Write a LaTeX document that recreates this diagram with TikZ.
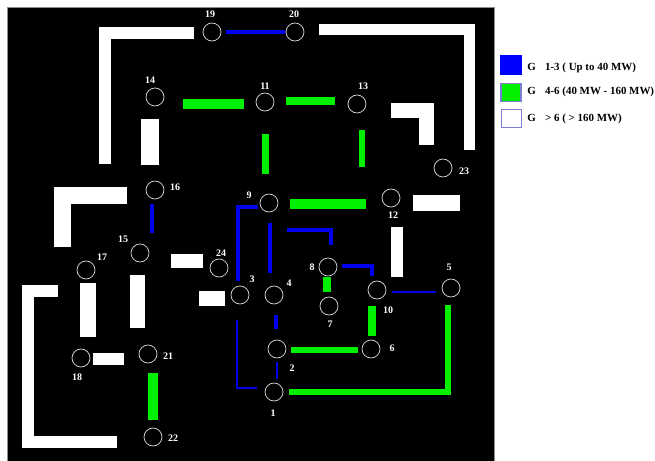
\documentclass[tikz,border=0pt]{standalone}
\usepackage{fontspec}
\setmainfont{Liberation Serif}
\begin{document}
\begin{tikzpicture}[x=0.75pt,y=-0.75pt,
  bus/.style={draw=white!85!black,line width=0.55pt,circle,inner sep=0pt,minimum size=13.5pt},
  numlabel/.style={text=white,font=\bfseries\fontsize{7.5}{8}\selectfont,inner sep=0pt},
  whitewire/.style={draw=white,line width=#1*0.75pt},
  greenwire/.style={draw=linegreen,line width=#1*0.75pt},
  bluewire/.style={draw=lineblue,line width=#1*0.75pt},
  legendbox/.style={minimum width=15pt,minimum height=14pt,inner sep=0pt,line width=0.9pt},
  legendtext/.style={text=black,font=\bfseries\fontsize{8.2}{9}\selectfont,inner sep=0pt,anchor=west}]
\definecolor{linegreen}{RGB}{0,240,0}
\definecolor{lineblue}{RGB}{0,0,235}
\definecolor{legendedge}{RGB}{125,125,215}
\useasboundingbox (0,0) rectangle (655,460);
\fill[white] (0,0) rectangle (655,460);
\filldraw[fill=black,draw=black!45,line width=0.5pt] (7,7) rectangle (494,462);
% buses
\foreach \n/\cx/\cy/\lx/\ly in {1/274/392/273/413,2/277/349/292/368,3/240/295/252/279,4/274/295/289/283,5/451/288/449/267,6/371/349/392/348,7/329/306/330/324,8/328/267/312/267,9/269/203/249/195,10/377/290/388/310,11/265/102/265/86,12/391/198/393/215,13/357/104/363/86,14/155/97/150/80,15/140/253/123/239,16/155/190/175/187,17/86/270/102/257,18/81/358/77/377,19/212/32/210/14,20/295/32/294/14,21/148/354/168/356,22/153/437/173/438,23/443/168/464/171,24/219/268/221/253}{
  \node[bus] (n\n) at (\cx,\cy) {};
  \node[numlabel] (t\n) at (\lx,\ly) {\n};
}
% white connectors
\draw[whitewire=12] ([shift={(-18,1)}]n19.center) -| ([shift={(-50,-26)}]n16.center);
\draw[whitewire=11.5] ([shift={(24,-2.5)}]n20.center) -| ([shift={(26.5,-18)}]n23.center);
\draw[whitewire=18] ([shift={(-5,22)}]n14.center) -- ([shift={(-5,-25)}]n16.center);
\draw[whitewire=15] ([shift={(34,6)}]n13.center) -| ([shift={(-16.5,-23)}]n23.center);
\draw[whitewire=16] ([shift={(22,5)}]n12.center) -- ([shift={(69,5)}]n12.center);
\draw[whitewire=17] ([shift={(-28,5.5)}]n16.center) -| ([shift={(-23.5,-23)}]n17.center);
\draw[whitewire=12] ([shift={(6,29)}]n12.center) -- ([shift={(20,-13)}]n10.center);
\draw[whitewire=14] ([shift={(-16,-7)}]n24.center) -- ([shift={(31,8)}]n15.center);
\draw[whitewire=15] ([shift={(-15,3.5)}]n3.center) -- ([shift={(-20,30.5)}]n24.center);
\draw[whitewire=16] ([shift={(1.5,13)}]n17.center) -- ([shift={(6.5,-21)}]n18.center);
\draw[whitewire=15] ([shift={(-2.5,22)}]n15.center) -- ([shift={(-10.5,-26)}]n21.center);
\draw[whitewire=12] ([shift={(12,1)}]n18.center) -- ([shift={(-24,5)}]n21.center);
\draw[whitewire=12] ([shift={(-28,21)}]n17.center) -- ++(-30,0) |- ([shift={(-36,4.5)}]n22.center);
% green connectors
\draw[greenwire=10] ([shift={(28,7)}]n14.center) -- ([shift={(-21,2)}]n11.center);
\draw[greenwire=8] ([shift={(21,-1)}]n11.center) -- ([shift={(-22,-3)}]n13.center);
\draw[greenwire=7.5] ([shift={(0.5,32)}]n11.center) -- ([shift={(-3.5,-29)}]n9.center);
\draw[greenwire=6] ([shift={(5,26)}]n13.center) -- ([shift={(-29,-31)}]n12.center);
\draw[greenwire=10] ([shift={(21,1)}]n9.center) -- ([shift={(-25,6)}]n12.center);
\draw[greenwire=8] ([shift={(-1,10)}]n8.center) -- ([shift={(-2,-14)}]n7.center);
\draw[greenwire=8] ([shift={(-5,16)}]n10.center) -- ([shift={(1,-13)}]n6.center);
\draw[greenwire=6.5] ([shift={(14,1)}]n2.center) -- ([shift={(-13,1)}]n6.center);
\draw[greenwire=6] ([shift={(15,0)}]n1.center) -| ([shift={(-3,17)}]n5.center);
\draw[greenwire=10] ([shift={(5,19)}]n21.center) -- ([shift={(0,-17)}]n22.center);
% blue connectors
\draw[bluewire=4] ([shift={(14,0)}]n19.center) -- ([shift={(-10,0)}]n20.center);
\draw[bluewire=4] ([shift={(-3,14)}]n16.center) -- ([shift={(12,-20)}]n15.center);
\draw[bluewire=4] ([shift={(-11,4)}]n9.center) -| ([shift={(-2,-14)}]n3.center);
\draw[bluewire=4] ([shift={(1,20)}]n9.center) -- ([shift={(-4,-22)}]n4.center);
\draw[bluewire=4] ([shift={(18,27)}]n9.center) -| ([shift={(3,-22)}]n8.center);
\draw[bluewire=4] ([shift={(14,-1)}]n8.center) -| ([shift={(-5,-14)}]n10.center);
\draw[bluewire=2] ([shift={(15,2)}]n10.center) -- ([shift={(-15,4)}]n5.center);
\draw[bluewire=4] ([shift={(2,20)}]n4.center) -- ([shift={(-1,-20)}]n2.center);
\draw[bluewire=2.5] ([shift={(0,13)}]n2.center) -- ([shift={(3,-13)}]n1.center);
\draw[bluewire=2] ([shift={(-3,25)}]n3.center) |- ([shift={(-17,-4)}]n1.center);
% legend
\node[legendbox,fill=blue,draw=blue] (lb) at (511,65) {};
\node[legendbox,fill=linegreen,draw=legendedge] (lg) at (511,92.5) {};
\node[legendbox,fill=white,draw=legendedge] (lw) at (511.5,118.5) {};
\node[legendtext] (tb) at (527,67.5) {G\hspace{7pt}1-3 ( Up to 40 MW)};
\node[legendtext] (tg) at (527,91.5) {G\hspace{7pt}4-6 (40 MW - 160 MW)};
\node[legendtext] (tw) at (527,118.5) {G\hspace{7pt}> 6 ( > 160 MW)};
\end{tikzpicture}
\end{document}
